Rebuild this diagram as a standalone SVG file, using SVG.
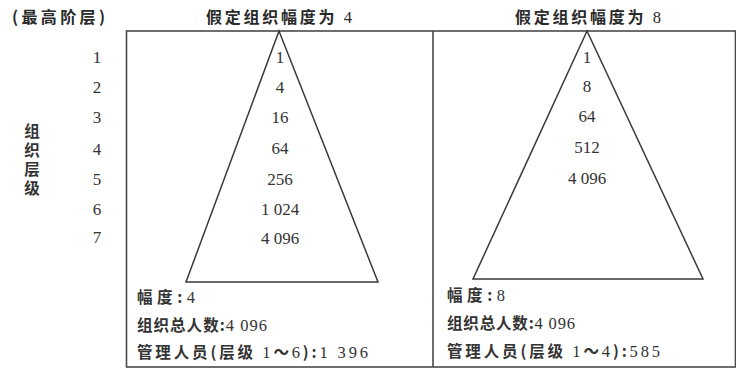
<svg xmlns="http://www.w3.org/2000/svg" width="736" height="371" viewBox="0 0 736 371">
<style>
.frame{fill:none;stroke:#4a4a4a;stroke-width:1.6}
.tri{fill:none;stroke:#3a3a3a;stroke-width:1.5;stroke-linejoin:miter}
.cn{font-family:"Noto Sans CJK SC","Liberation Sans",sans-serif;font-weight:bold;font-size:15.5px;fill:#333}
.d{font-family:"Liberation Serif",serif;font-weight:normal;font-size:16.5px}
.num{font-family:"Liberation Serif",serif;font-size:17px;fill:#333;text-anchor:middle;dominant-baseline:central}
.title{font-family:"Noto Sans CJK SC","Liberation Sans",sans-serif;font-weight:bold;font-size:16px;fill:#2a2a2a}
</style>
<rect width="736" height="371" fill="#fff"/>
<g id="labels-left">
<text class="title" x="12" y="23" textLength="93" lengthAdjust="spacing">(最高阶层)</text>
<text class="cn" x="32" y="123" writing-mode="vertical-rl" letter-spacing="3.5">组织层级</text>
<text class="num" x="97" y="57">1</text>
<text class="num" x="97" y="87">2</text>
<text class="num" x="97" y="117">3</text>
<text class="num" x="97" y="149">4</text>
<text class="num" x="97" y="179">5</text>
<text class="num" x="97" y="209">6</text>
<text class="num" x="97" y="237">7</text>
</g>
<g id="frame">
<rect class="frame" x="126.5" y="31" width="609" height="336"/>
<line class="frame" x1="433" y1="31" x2="433" y2="367"/>
</g>
<g id="panel-4">
<text class="title" x="206" y="23" textLength="146" lengthAdjust="spacing">假定组织幅度为 <tspan class="d">4</tspan></text>
<polygon class="tri" points="279,31 186,282 378,282"/>
<text class="num" x="280" y="57">1</text>
<text class="num" x="280" y="87">4</text>
<text class="num" x="280" y="117">16</text>
<text class="num" x="280" y="148">64</text>
<text class="num" x="280" y="179">256</text>
<text class="num" x="280" y="209">1 024</text>
<text class="num" x="280" y="238">4 096</text>
<text class="cn" x="137" y="303" textLength="58" lengthAdjust="spacing">幅度:<tspan class="d">4</tspan></text>
<text class="cn" x="137" y="331" textLength="130" lengthAdjust="spacing">组织总人数:<tspan class="d">4 096</tspan></text>
<text class="cn" x="137" y="358" textLength="231" lengthAdjust="spacing">管理人员(层级 <tspan class="d">1</tspan>～<tspan class="d">6</tspan>):<tspan class="d">1 396</tspan></text>
</g>
<g id="panel-8">
<text class="title" x="515" y="23" textLength="146" lengthAdjust="spacing">假定组织幅度为 <tspan class="d">8</tspan></text>
<polygon class="tri" points="587,31 473,279 703,279"/>
<text class="num" x="587" y="57">1</text>
<text class="num" x="587" y="86">8</text>
<text class="num" x="587" y="116">64</text>
<text class="num" x="587" y="147">512</text>
<text class="num" x="587" y="178">4 096</text>
<text class="cn" x="447" y="301" textLength="58" lengthAdjust="spacing">幅度:<tspan class="d">8</tspan></text>
<text class="cn" x="447" y="329" textLength="128" lengthAdjust="spacing">组织总人数:<tspan class="d">4 096</tspan></text>
<text class="cn" x="447" y="357" textLength="213" lengthAdjust="spacing">管理人员(层级 <tspan class="d">1</tspan>～<tspan class="d">4</tspan>):<tspan class="d">585</tspan></text>
</g>
</svg>
